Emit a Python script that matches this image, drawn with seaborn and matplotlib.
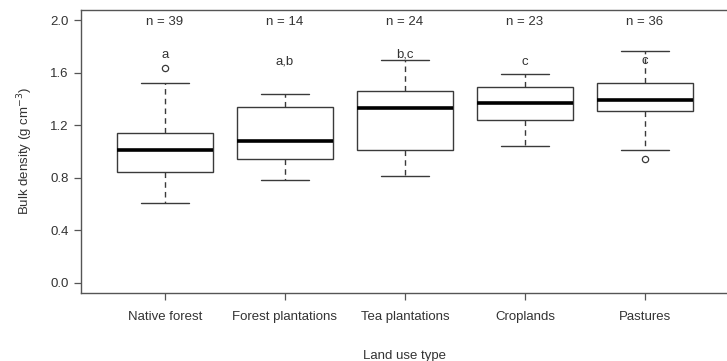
import numpy as np
import pandas as pd
import seaborn as sns
import matplotlib.pyplot as plt

# five-number summaries (g cm-3)
land_use = ["Native forest", "Forest plantations", "Tea plantations", "Croplands", "Pastures"]
whisker_low = [0.61, 0.78, 0.81, 1.04, 1.01]
q1 = [0.84, 0.94, 1.01, 1.24, 1.31]
median = [1.01, 1.08, 1.33, 1.37, 1.39]
q3 = [1.14, 1.34, 1.46, 1.49, 1.52]
whisker_high = [1.52, 1.44, 1.70, 1.59, 1.77]
outliers = [[1.64], [], [], [], [0.94]]
n_obs = [39, 14, 24, 23, 36]
letters = ["a", "a,b", "b,c", "c", "c"]
letter_y = [1.74, 1.69, 1.74, 1.68, 1.69]

# long table for seaborn: each summary value repeated so the quartiles land on it
rows = []
for i, name in enumerate(land_use):
    vals = np.repeat([whisker_low[i], q1[i], median[i], q3[i], whisker_high[i]],
                     [1, 20, 20, 20, 1])
    vals = np.concatenate([vals, outliers[i]])
    rows.append(pd.DataFrame({"land_use": name, "bd": vals}))
df = pd.concat(rows, ignore_index=True)

sns.set_style("white")
plt.rcParams["font.family"] = ["Liberation Sans", "DejaVu Sans"]

fig = plt.figure(figsize=(7.27, 3.61), dpi=100)
ax = fig.add_axes([81 / 727, 1 - 293 / 361, 648 / 727, 283 / 361])

edge = "#3a3a3a"
sns.boxplot(data=df, x="land_use", y="bd", order=land_use, ax=ax,
            color="white", linecolor=edge, linewidth=1.0, width=0.8, whis=1.5,
            medianprops=dict(color="black", linewidth=2.6),
            whiskerprops=dict(linestyle=(0, (4, 3)), linewidth=1.0),
            capprops=dict(linewidth=1.0),
            flierprops=dict(marker="o", markersize=4.5, markerfacecolor="white",
                            markeredgecolor=edge, markeredgewidth=0.9))

for i in range(len(land_use)):
    ax.text(i, 1.985, f"n = {n_obs[i]}", ha="center", va="center",
            fontsize=9.5, color="#333333")
    ax.text(i, letter_y[i], letters[i], ha="center", va="center",
            fontsize=9.5, color="#333333")

ax.set_xlim(-0.7, 4.7)
ax.set_ylim(-0.08, 2.08)
ax.set_yticks([0.0, 0.4, 0.8, 1.2, 1.6, 2.0])
ax.set_yticklabels(["0.0", "0.4", "0.8", "1.2", "1.6", "2.0"])
ax.tick_params(axis="both", direction="out", length=5, width=0.9, color="#555555",
               labelsize=9.5, labelcolor="#333333", pad=4, left=True, bottom=True)
ax.tick_params(axis="x", pad=8)

for side in ["left", "bottom", "top"]:
    ax.spines[side].set_color("#555555")
    ax.spines[side].set_linewidth(1.0)
ax.spines["right"].set_visible(False)

ax.set_xlabel("Land use type", fontsize=9.5, color="#333333", labelpad=19.5)
ax.set_ylabel("Bulk density (g cm$^{-3}$)", fontsize=9.5, color="#333333", labelpad=11)

fig.savefig("out.png", dpi=100)
